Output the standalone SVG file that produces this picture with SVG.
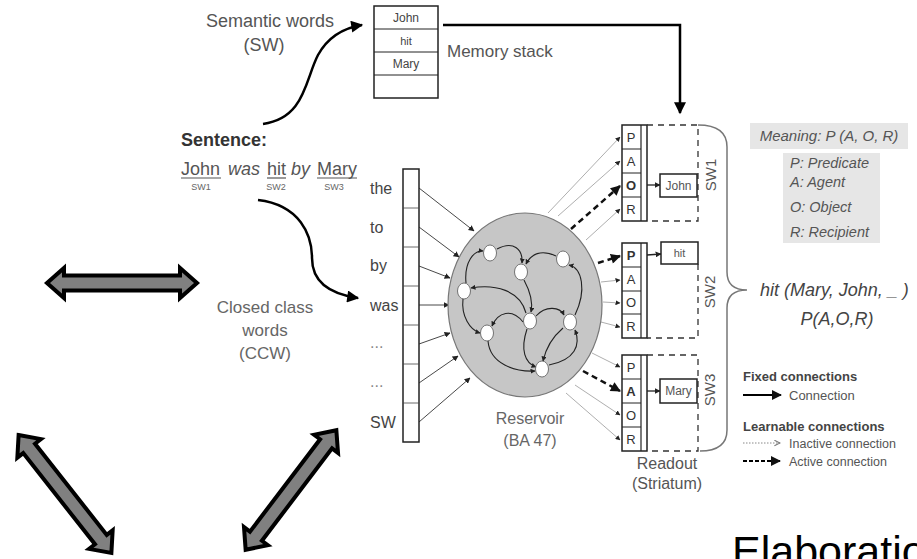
<svg xmlns="http://www.w3.org/2000/svg" width="917" height="559" viewBox="0 0 917 559">
<style>
text{font-family:"Liberation Sans",Arial,sans-serif}
.g{fill:#555}
.lg{fill:#666}
.it{font-style:italic}
.cell{fill:#fff;stroke:#222;stroke-width:1.5}
.thin{fill:none;stroke:#999;stroke-width:0.8}
.act{fill:none;stroke:#111;stroke-width:2.5;stroke-dasharray:6,4}
.dash{fill:none;stroke:#333;stroke-width:1.3;stroke-dasharray:6,5}
.edge{fill:none;stroke:#222;stroke-width:1.1}
.node{fill:#fff;stroke:#555;stroke-width:0.8}
.big{fill:#808080;stroke:#000;stroke-width:4;stroke-linejoin:miter}
.cl{font-size:13px;fill:#333;text-anchor:middle}
</style>
<defs>
<marker id="mb" viewBox="0 0 10 10" refX="9" refY="5" markerWidth="13" markerHeight="12" markerUnits="userSpaceOnUse" orient="auto"><path d="M0,0 L10,5 L0,10 z" fill="#000"/></marker>
<marker id="ms" viewBox="0 0 10 10" refX="9" refY="5" markerWidth="6" markerHeight="6" markerUnits="userSpaceOnUse" orient="auto"><path d="M0,0 L10,5 L0,10 z" fill="#222"/></marker>
<marker id="mg" viewBox="0 0 10 10" refX="9" refY="5" markerWidth="5" markerHeight="5" markerUnits="userSpaceOnUse" orient="auto"><path d="M0,0 L10,5 L0,10 z" fill="#222"/></marker>
<marker id="ma" viewBox="0 0 10 10" refX="9" refY="5" markerWidth="11" markerHeight="10" markerUnits="userSpaceOnUse" orient="auto"><path d="M0,0 L10,5 L0,10 z" fill="#111"/></marker>
<marker id="mo" viewBox="0 0 10 10" refX="9" refY="5" markerWidth="7" markerHeight="7" markerUnits="userSpaceOnUse" orient="auto"><path d="M1,1 L9,5 L1,9" fill="none" stroke="#777" stroke-width="1.5"/></marker>
<path id="dbl" d="M-75,0 L-58,-15 L-58,-7.5 L58,-7.5 L58,-15 L75,0 L58,15 L58,7.5 L-58,7.5 L-58,15 Z"/>
</defs>

<g id="connectors">
<path d="M443,25 H680 V113" fill="none" stroke="#000" stroke-width="2.5" marker-end="url(#mb)"/>
<path d="M263,124 C305,118 305,80 318,55 C328,37 343,28 362,25" fill="none" stroke="#000" stroke-width="2.5" marker-end="url(#mb)"/>
<path d="M258,200 C300,205 312,235 312,258 C312,282 330,294 358,298" fill="none" stroke="#000" stroke-width="2.5" marker-end="url(#mb)"/>
<g stroke="#333" stroke-width="0.9" marker-end="url(#ms)">
<line x1="419" y1="188" x2="474" y2="231"/>
<line x1="419" y1="227" x2="459" y2="257"/>
<line x1="419" y1="266" x2="450" y2="278"/>
<line x1="419" y1="305" x2="449" y2="305"/>
<line x1="419" y1="344" x2="450" y2="333"/>
<line x1="419" y1="383" x2="458" y2="356"/>
<line x1="419" y1="422" x2="470" y2="378"/>
</g>
<g class="thin" marker-end="url(#mg)">
<line x1="548" y1="213" x2="620" y2="137"/>
<line x1="558" y1="216" x2="620" y2="161"/>
<line x1="586" y1="240" x2="620" y2="209"/>
<line x1="601" y1="282" x2="620" y2="280"/>
<line x1="603" y1="302" x2="620" y2="303"/>
<line x1="601" y1="322" x2="620" y2="327"/>
<line x1="592" y1="353" x2="620" y2="367"/>
<line x1="575" y1="385" x2="620" y2="415"/>
<line x1="566" y1="393" x2="620" y2="440"/>
</g>
<g class="act" marker-end="url(#ma)">
<line x1="571" y1="229" x2="620" y2="186"/>
<line x1="598" y1="263" x2="620" y2="256"/>
<line x1="583" y1="371" x2="620" y2="391"/>
</g>
<g stroke="#222" stroke-width="1.3" marker-end="url(#ms)">
<line x1="647" y1="185" x2="660" y2="185"/>
<line x1="647" y1="255" x2="661" y2="254"/>
<line x1="647" y1="391" x2="660" y2="391"/>
</g>
<path d="M698,125 Q727,125 727,147 L727,272 Q727,290 747,290 Q727,290 727,308 L727,430 Q727,451 700,451" fill="none" stroke="#777" stroke-width="1.5"/>
</g>

<g id="semantic-words">
<text x="270" y="27" class="g" font-size="18" text-anchor="middle">Semantic words</text>
<text x="264" y="51" class="g" font-size="18" text-anchor="middle">(SW)</text>
</g>

<g id="memory-stack">
<rect x="374" y="6" width="64" height="92" class="cell" stroke-width="2"/>
<line x1="374" y1="29" x2="438" y2="29" stroke="#222" stroke-width="1"/>
<line x1="374" y1="52" x2="438" y2="52" stroke="#222" stroke-width="1"/>
<line x1="374" y1="75" x2="438" y2="75" stroke="#222" stroke-width="1"/>
<text x="406" y="22" font-size="12" text-anchor="middle" fill="#444">John</text>
<text x="406" y="45" font-size="11" text-anchor="middle" fill="#444">hit</text>
<text x="406" y="68" font-size="12" text-anchor="middle" fill="#444">Mary</text>
<text x="447" y="57" class="g" font-size="17">Memory stack</text>
</g>

<g id="sentence">
<text x="181" y="146" font-size="18" font-weight="bold" fill="#333">Sentence:</text>
<text y="175" font-size="18" class="g"><tspan x="181">John</tspan><tspan x="228" class="it">was</tspan><tspan x="267">hit</tspan><tspan x="291" class="it">by</tspan><tspan x="317">Mary</tspan></text>
<g stroke="#555" stroke-width="1.2">
<line x1="181" y1="178" x2="221" y2="178"/>
<line x1="267" y1="178" x2="286" y2="178"/>
<line x1="317" y1="178" x2="357" y2="178"/>
</g>
<g font-size="9" fill="#666" text-anchor="middle">
<text x="201" y="190">SW1</text>
<text x="276" y="190">SW2</text>
<text x="334" y="190">SW3</text>
</g>
</g>

<g id="ccw-label">
<text x="265" y="313" class="lg" font-size="17" text-anchor="middle">Closed class</text>
<text x="265" y="336" class="lg" font-size="17" text-anchor="middle">words</text>
<text x="265" y="359" class="lg" font-size="17" text-anchor="middle">(CCW)</text>
</g>

<g id="ccw-stack">
<rect x="403" y="169" width="16" height="273" class="cell" stroke-width="2"/>
<g stroke="#444" stroke-width="0.8">
<line x1="403" y1="208" x2="419" y2="208"/>
<line x1="403" y1="247" x2="419" y2="247"/>
<line x1="403" y1="286" x2="419" y2="286"/>
<line x1="403" y1="325" x2="419" y2="325"/>
<line x1="403" y1="364" x2="419" y2="364"/>
<line x1="403" y1="403" x2="419" y2="403"/>
</g>
<g font-size="16" fill="#444">
<text x="370" y="194">the</text>
<text x="370" y="233">to</text>
<text x="370" y="271">by</text>
<text x="370" y="311">was</text>
<text x="370" y="348" fill="#888">...</text>
<text x="370" y="387" fill="#888">...</text>
<text x="370" y="428">SW</text>
</g>
</g>

<g id="reservoir">
<ellipse cx="525" cy="305" rx="77" ry="92" fill="#c6c6c6" stroke="#777" stroke-width="1.2"/>
<g class="edge" marker-end="url(#mg)">
<path d="M466,283 C464,262 474,250 483,251"/>
<path d="M497,249 C514,240 523,250 522,263"/>
<path d="M556,256 C541,249 531,254 526,264"/>
<path d="M575,315 C587,290 582,268 569,265"/>
<path d="M524,280 C531,293 533,303 531,312"/>
<path d="M463,299 C461,316 470,330 480,333"/>
<path d="M526,313 C520,290 495,284 471,288"/>
<path d="M523,322 C512,308 498,312 492,326"/>
<path d="M488,341 C490,364 515,372 535,371"/>
<path d="M527,329 C520,350 525,363 536,367"/>
<path d="M563,328 C549,340 545,352 543,361"/>
<path d="M549,365 C575,360 581,345 575,330"/>
<path d="M536,316 C546,305 560,307 564,315"/>
</g>
<ellipse cx="490" cy="253" rx="6.5" ry="8" class="node"/>
<ellipse cx="521" cy="272" rx="6.5" ry="8" class="node"/>
<ellipse cx="563" cy="259" rx="6.5" ry="8" class="node"/>
<ellipse cx="464" cy="291" rx="6.5" ry="8" class="node"/>
<ellipse cx="530" cy="321" rx="6.5" ry="8" class="node"/>
<ellipse cx="570" cy="322" rx="6.5" ry="8" class="node"/>
<ellipse cx="487" cy="333" rx="6.5" ry="8" class="node"/>
<ellipse cx="542" cy="369" rx="6.5" ry="8" class="node"/>
<text x="530" y="424" class="lg" font-size="16" text-anchor="middle">Reservoir</text>
<text x="530" y="446" class="lg" font-size="16" text-anchor="middle">(BA 47)</text>
</g>

<g id="readout-sw1">
<rect x="622" y="125" width="25" height="96" class="cell"/>
<line x1="641" y1="125" x2="641" y2="221" stroke="#222" stroke-width="1.2"/>
<g stroke="#222" stroke-width="1"><line x1="622" y1="149" x2="641" y2="149"/><line x1="622" y1="173" x2="641" y2="173"/><line x1="622" y1="197" x2="641" y2="197"/></g>
<text x="631" y="142" class="cl">P</text><text x="631" y="166" class="cl">A</text><text x="631" y="190" class="cl" font-weight="bold">O</text><text x="631" y="214" class="cl">R</text>
<path d="M647,125 H698 V221 H647" class="dash"/>
<rect x="660" y="174" width="37" height="23" class="cell" stroke-width="2"/>
<text x="678.5" y="190" font-size="12" text-anchor="middle" fill="#555">John</text>
<text transform="translate(711,175) rotate(-90)" x="0" y="5" font-size="15" text-anchor="middle" fill="#555">SW1</text>
</g>

<g id="readout-sw2">
<rect x="622" y="243" width="25" height="95" class="cell"/>
<line x1="641" y1="243" x2="641" y2="338" stroke="#222" stroke-width="1.2"/>
<g stroke="#222" stroke-width="1"><line x1="622" y1="267" x2="641" y2="267"/><line x1="622" y1="291" x2="641" y2="291"/><line x1="622" y1="314" x2="641" y2="314"/></g>
<text x="631" y="260" class="cl" font-weight="bold">P</text><text x="631" y="284" class="cl">A</text><text x="631" y="307" class="cl">O</text><text x="631" y="331" class="cl">R</text>
<path d="M698,264 V338 H647" class="dash"/>
<rect x="661" y="242" width="37" height="22" class="cell" stroke-width="2"/>
<text x="679.5" y="257" font-size="11" text-anchor="middle" fill="#555">hit</text>
<text transform="translate(710,292) rotate(-90)" x="0" y="5" font-size="15" text-anchor="middle" fill="#555">SW2</text>
</g>

<g id="readout-sw3">
<rect x="622" y="355" width="25" height="96" class="cell"/>
<line x1="641" y1="355" x2="641" y2="451" stroke="#222" stroke-width="1.2"/>
<g stroke="#222" stroke-width="1"><line x1="622" y1="379" x2="641" y2="379"/><line x1="622" y1="403" x2="641" y2="403"/><line x1="622" y1="427" x2="641" y2="427"/></g>
<text x="631" y="372" class="cl">P</text><text x="631" y="396" class="cl" font-weight="bold">A</text><text x="631" y="420" class="cl">O</text><text x="631" y="444" class="cl">R</text>
<path d="M647,355 H698 V451 H647" class="dash"/>
<rect x="660" y="379" width="37" height="24" class="cell" stroke-width="2"/>
<text x="678.5" y="395" font-size="12" text-anchor="middle" fill="#555">Mary</text>
<text transform="translate(710,390) rotate(-90)" x="0" y="5" font-size="15" text-anchor="middle" fill="#555">SW3</text>
</g>

<g id="readout-label">
<text x="667" y="469" class="g" font-size="16" text-anchor="middle">Readout</text>
<text x="667" y="489" class="g" font-size="16" text-anchor="middle">(Striatum)</text>
</g>

<g id="meaning">
<rect x="750" y="123" width="158" height="26" fill="#e6e6e6"/>
<text x="829" y="141" class="g it" font-size="15" text-anchor="middle">Meaning: P (A, O, R)</text>
<rect x="783" y="153" width="97" height="90" fill="#e6e6e6"/>
<g class="g it" font-size="14.5">
<text x="790" y="168">P: Predicate</text>
<text x="790" y="187">A: Agent</text>
<text x="790" y="212">O: Object</text>
<text x="790" y="237">R: Recipient</text>
</g>
</g>

<g id="result">
<text x="760" y="296" class="it" font-size="18" fill="#444">hit (Mary, John, _ )</text>
<text x="837" y="325" class="it" font-size="18" fill="#444" text-anchor="middle">P(A,O,R)</text>
</g>

<g id="legend">
<text x="743" y="381" font-size="13" font-weight="bold" fill="#444">Fixed connections</text>
<line x1="743" y1="395" x2="781" y2="395" stroke="#000" stroke-width="2" marker-end="url(#ma)"/>
<text x="789" y="400" class="g" font-size="13">Connection</text>
<text x="743" y="431" font-size="13" font-weight="bold" fill="#444">Learnable connections</text>
<line x1="743" y1="443" x2="780" y2="443" stroke="#888" stroke-width="1" stroke-dasharray="1.5,1.5" marker-end="url(#mo)"/>
<text x="789" y="448" class="g" font-size="12.5">Inactive connection</text>
<line x1="743" y1="461" x2="780" y2="461" stroke="#000" stroke-width="2" stroke-dasharray="4,2" marker-end="url(#ma)"/>
<text x="789" y="466" class="g" font-size="12.5">Active connection</text>
</g>

<g id="double-arrow-top"><use href="#dbl" class="big" transform="translate(122,283)"/></g>
<g id="double-arrow-left"><use href="#dbl" class="big" transform="translate(65,494) rotate(51.8)"/></g>
<g id="double-arrow-right"><use href="#dbl" class="big" transform="translate(291,490) rotate(-52.8)"/></g>

<g id="elaboration">
<text x="732" y="566" font-family="'Open Sans',sans-serif" font-size="43" fill="#000">Elaboration</text>
</g>
</svg>
